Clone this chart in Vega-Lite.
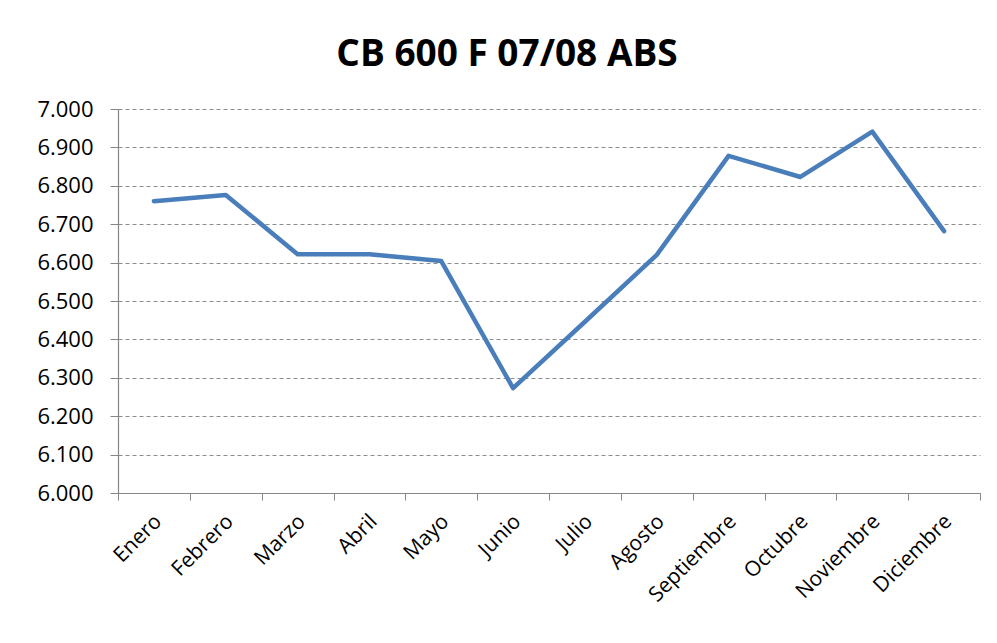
{
  "$schema": "https://vega.github.io/schema/vega-lite/v6.json",
  "width": 862,
  "height": 384,
  "autosize": "none",
  "padding": {"left": 118, "top": 109, "right": 17, "bottom": 150},
  "background": "white",
  "title": {
    "text": "CB 600 F 07/08 ABS",
    "font": "Open Sans",
    "fontSize": 37,
    "fontWeight": "bold",
    "color": "#000000",
    "anchor": "middle",
    "frame": "group",
    "dx": -42,
    "offset": 24
  },
  "data": {
    "values": [
      {"mes": "Enero", "valor": 6760},
      {"mes": "Febrero", "valor": 6776},
      {"mes": "Marzo", "valor": 6622},
      {"mes": "Abril", "valor": 6622},
      {"mes": "Mayo", "valor": 6604},
      {"mes": "Junio", "valor": 6273},
      {"mes": "Julio", "valor": 6446},
      {"mes": "Agosto", "valor": 6620},
      {"mes": "Septiembre", "valor": 6878},
      {"mes": "Octubre", "valor": 6823},
      {"mes": "Noviembre", "valor": 6941},
      {"mes": "Diciembre", "valor": 6682}
    ]
  },
  "mark": {"type": "line", "color": "#4a7ebb", "strokeWidth": 4.5, "strokeJoin": "round", "strokeCap": "round"},
  "encoding": {
    "x": {
      "field": "mes",
      "type": "nominal",
      "sort": null,
      "title": null,
      "scale": {"type": "band", "paddingInner": 0, "paddingOuter": 0},
      "axis": {
        "tickBand": "extent",
        "grid": false,
        "labelAngle": -45,
        "labelAlign": "right",
        "labelBaseline": "middle",
        "labelFont": "Open Sans",
        "labelFontSize": 21,
        "labelColor": "#000000",
        "labelPadding": 18,
        "labelOffset": 4,
        "labelOverlap": false,
        "tickSize": 7,
        "tickColor": "#868686",
        "domainColor": "#868686",
        "tickWidth": 1,
        "domainWidth": 1.2
      }
    },
    "y": {
      "field": "valor",
      "type": "quantitative",
      "title": null,
      "scale": {"domain": [6000, 7000], "zero": false, "nice": false},
      "axis": {
        "values": [6000, 6100, 6200, 6300, 6400, 6500, 6600, 6700, 6800, 6900, 7000],
        "labelExpr": "replace(format(datum.value, ','), ',', '.')",
        "labelFont": "Open Sans",
        "labelFontSize": 22,
        "labelColor": "#000000",
        "labelPadding": 17,
        "tickSize": 8,
        "tickColor": "#868686",
        "domainColor": "#868686",
        "domainWidth": 1.2,
        "grid": true,
        "gridColor": "#8c8c8c",
        "gridDash": [4, 3],
        "gridWidth": 1
      }
    }
  },
  "config": {
    "view": {"stroke": null}
  }
}
